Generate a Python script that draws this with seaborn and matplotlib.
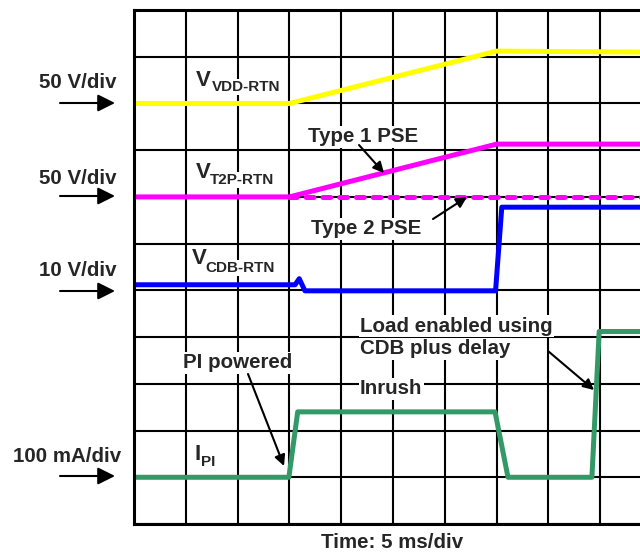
import numpy as np
import pandas as pd
import matplotlib
matplotlib.use("Agg")
import matplotlib.pyplot as plt
import seaborn as sns

# traces, in scope divisions (x: 5 ms/div, y: one grid row per div)
t_vdd = [0, 3.0, 7.0, 9.8]
v_vdd = [9.0, 9.0, 10.12, 10.1]

t_type1 = [0, 3.0, 7.0, 9.8]
v_type1 = [7.0, 7.0, 8.13, 8.13]

t_type2 = [3.0, 9.8]
v_type2 = [7.0, 7.0]

t_cdb = [0, 3.11, 3.19, 3.30, 6.98, 7.10, 9.8]
v_cdb = [5.12, 5.12, 5.25, 4.99, 4.99, 6.78, 6.78]

t_pi = [0, 2.99, 3.16, 6.97, 7.22, 8.84, 8.98, 9.8]
i_pi = [1.0, 1.0, 2.40, 2.40, 1.0, 1.0, 4.12, 4.12]

scale_labels = ["50 V/div", "50 V/div", "10 V/div", "100 mA/div"]

sns.set_style("white")
plt.rcParams["font.family"] = ["Liberation Sans", "DejaVu Sans"]
plt.rcParams["font.weight"] = "bold"

fig = plt.figure(figsize=(6.4, 5.52), dpi=100)
ax = fig.add_axes([134 / 640, 28 / 552, 506 / 640, 514 / 552])

ax.set_xlim(0, 506 / 51.8)
ax.set_ylim(0, 11)
ax.set_xticks(np.arange(0, 10))
ax.set_yticks(np.arange(0, 12))
ax.tick_params(length=0, labelbottom=False, labelleft=False)
ax.grid(True, color="black", lw=1.5)
ax.set_axisbelow(True)
for s in ["left", "bottom", "top"]:
    ax.spines[s].set_color("black")
    ax.spines[s].set_linewidth(2.2)
ax.spines["right"].set_visible(False)

lw = 3.6
sns.lineplot(x=t_vdd, y=v_vdd, color="#ffff00", lw=lw, sort=False, estimator=None, ax=ax)
sns.lineplot(x=t_type1, y=v_type1, color="#ff00ff", lw=lw, sort=False, estimator=None, ax=ax)
sns.lineplot(x=t_type2, y=v_type2, color="#ff00ff", lw=lw, sort=False, estimator=None, ax=ax)
ax.lines[-1].set_linestyle((0, (1.55, 1.8)))
ax.lines[-1].set_dash_capstyle("round")
sns.lineplot(x=t_cdb, y=v_cdb, color="#0000ff", lw=lw, sort=False, estimator=None, ax=ax)
sns.lineplot(x=t_pi, y=i_pi, color="#339966", lw=lw, sort=False, estimator=None, ax=ax)
ax.set_xlabel("")
ax.set_ylabel("")

H = 552
FS = 14.8
box = dict(facecolor="white", edgecolor="none", pad=1.0)


def label(txt, x, y, size=FS, ha="center"):
    ax.annotate(txt, xy=(x, H - y - 2), xycoords="figure pixels", ha=ha, va="center",
                fontsize=size, fontweight="bold", bbox=box, zorder=5)


def arrow(x0, y0, x1, y1, scale=16):
    ax.annotate("", xy=(x1, H - y1), xycoords="figure pixels",
                xytext=(x0, H - y0), textcoords="figure pixels",
                arrowprops=dict(arrowstyle="-|>", color="black", lw=1.5,
                                mutation_scale=scale, shrinkA=0, shrinkB=0),
                annotation_clip=False, zorder=6)


# channel scales on the left
for txt, ty, ay in zip(scale_labels, [81, 177, 268, 455], [103, 196, 291, 476]):
    label(txt, 78 if txt != "100 mA/div" else 67, ty)
    arrow(60, ay, 115, ay, scale=26)

# channel names with subscripts
for main, sub, x, y, sx, sy in [("V", "VDD-RTN", 203, 79, 212, 86),
                               ("V", "T2P-RTN", 203, 171, 210, 179),
                               ("V", "CDB-RTN", 199, 258, 205, 267),
                               ("I", "PI", 198, 453, 201, 461)]:
    ax.annotate(main, xy=(x, H - y - 1), xycoords="figure pixels", ha="center", va="center",
                fontsize=16, fontweight="bold", bbox=box, zorder=5)
    ax.annotate(sub, xy=(sx, H - sy - 1), xycoords="figure pixels", ha="left", va="center",
                fontsize=11, fontweight="bold", bbox=box, zorder=5.5)

label("Type 1 PSE", 363, 135)
arrow(359, 145, 384, 173)
label("Type 2 PSE", 366, 227)
arrow(433, 219, 467, 197)
label("PI powered", 238, 361)
arrow(248, 374, 284, 466)
label("Load enabled using", 360, 324, ha="left")
label("CDB plus delay", 360, 347, ha="left")
arrow(548, 351, 594, 390)
label("Inrush", 360, 387, ha="left")
label("Time: 5 ms/div", 392, 541)

fig.savefig("out.png", dpi=100)
